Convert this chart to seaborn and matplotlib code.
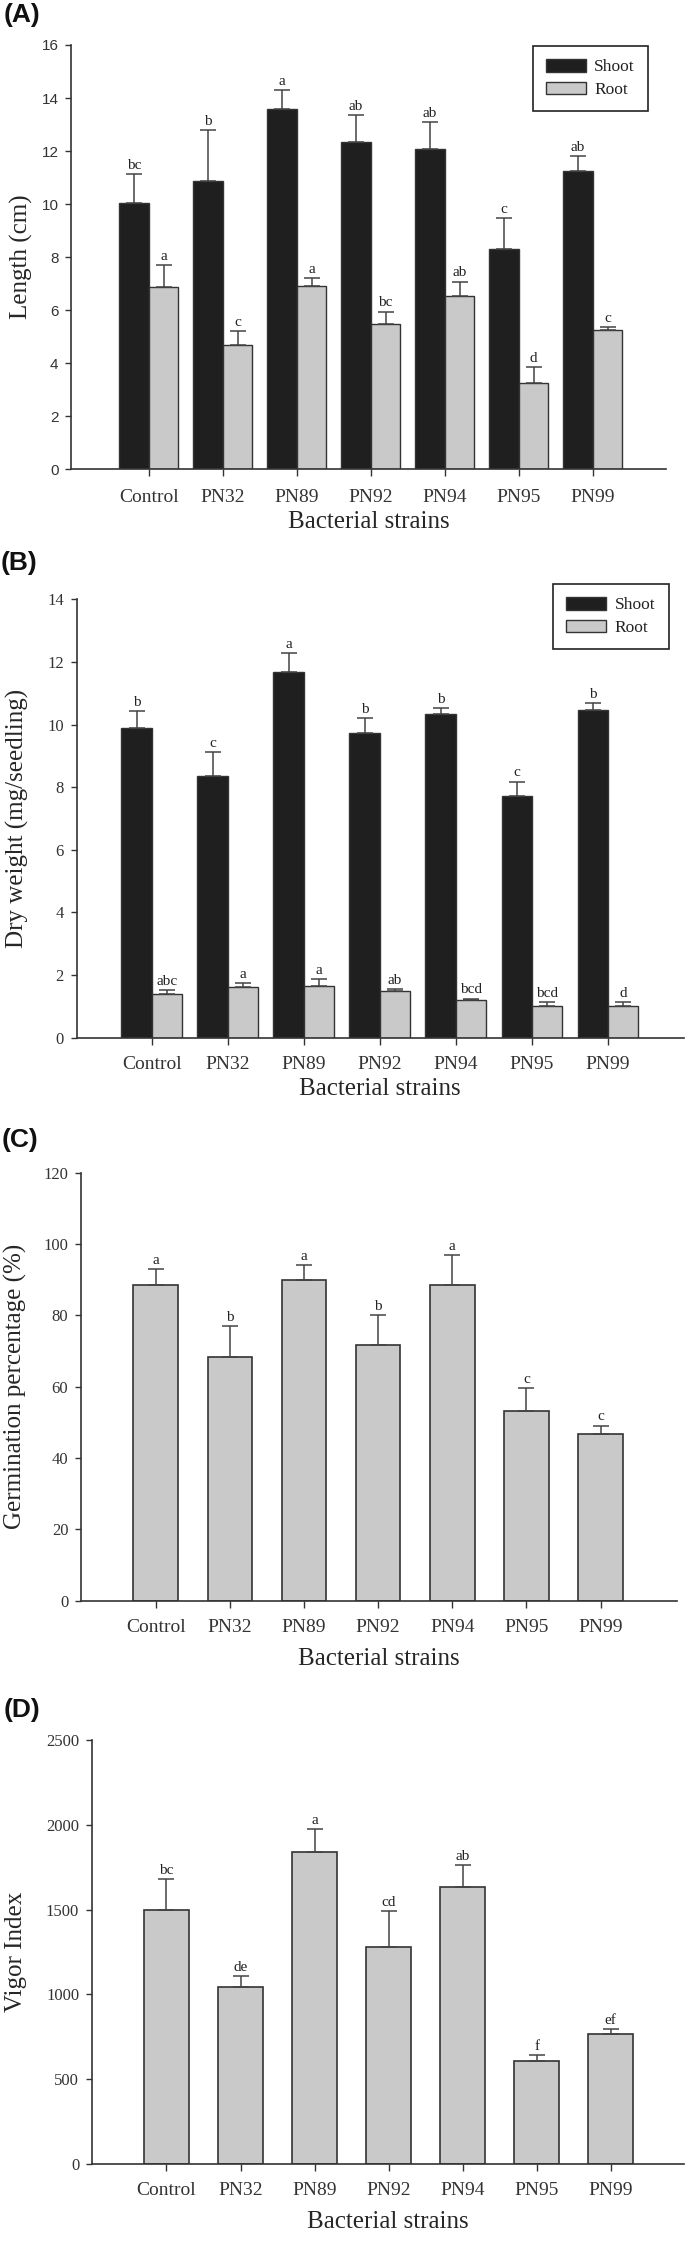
import seaborn as sns
import pandas as pd
import matplotlib.pyplot as plt
from matplotlib.patches import Patch

strains = ['Control', 'PN32', 'PN89', 'PN92', 'PN94', 'PN95', 'PN99']

# (A) length, cm
len_shoot = [10.05, 10.88, 13.58, 12.35, 12.07, 8.30, 11.26]
len_shoot_err = [1.08, 1.91, 0.73, 1.02, 1.01, 1.17, 0.56]
len_shoot_let = ['bc', 'b', 'a', 'ab', 'ab', 'c', 'ab']
len_root = [6.89, 4.68, 6.93, 5.49, 6.54, 3.25, 5.25]
len_root_err = [0.82, 0.55, 0.28, 0.46, 0.54, 0.60, 0.12]
len_root_let = ['a', 'c', 'a', 'bc', 'ab', 'd', 'c']

# (B) dry weight, mg/seedling
dw_shoot = [9.88, 8.36, 11.68, 9.73, 10.33, 7.72, 10.45]
dw_shoot_err = [0.54, 0.76, 0.59, 0.47, 0.21, 0.46, 0.23]
dw_shoot_let = ['b', 'c', 'a', 'b', 'b', 'c', 'b']
dw_root = [1.39, 1.61, 1.64, 1.48, 1.19, 1.00, 1.02]
dw_root_err = [0.12, 0.13, 0.23, 0.08, 0.06, 0.14, 0.13]
dw_root_let = ['abc', 'a', 'a', 'ab', 'bcd', 'bcd', 'd']

# (C) germination %
germ = [88.4, 68.4, 90.0, 71.6, 88.4, 53.3, 46.8]
germ_err = [4.6, 8.5, 4.1, 8.5, 8.5, 6.3, 2.3]
germ_let = ['a', 'b', 'a', 'b', 'a', 'c', 'c']

# (D) vigor index
vigor = [1498, 1045, 1840, 1281, 1631, 607, 767]
vigor_err = [184, 63, 137, 211, 132, 38, 31]
vigor_let = ['bc', 'de', 'a', 'cd', 'ab', 'f', 'ef']

SHOOT = '#1f1f1f'
ROOT = '#c9c9c9'
EDGE = '#333333'
INK = '#222222'

sns.set_style('ticks')
plt.rcParams['font.family'] = ['Liberation Serif', 'DejaVu Serif']
plt.rcParams['axes.edgecolor'] = '#333333'
plt.rcParams['xtick.color'] = '#333333'
plt.rcParams['ytick.color'] = '#333333'
plt.rcParams['text.color'] = INK

W, H = 685, 2241
fig = plt.figure(figsize=(W / 100, H / 100), dpi=100)


def make_axes(l, t, r, b):
    return fig.add_axes([l / W, 1 - b / H, (r - l) / W, (b - t) / H])


def add_errs(ax, errs, letters):
    # bars sorted left to right match the interleaved value order
    bars = sorted(ax.patches, key=lambda p: p.get_x())
    for p, e, lt in zip(bars, errs, letters):
        xc = p.get_x() + p.get_width() / 2
        h = p.get_height()
        ax.errorbar(xc, h, yerr=[[0], [e]], fmt='none', ecolor='#444444',
                    elinewidth=1.1, capsize=6, capthick=1.1, zorder=3)
        ax.annotate(lt, (xc, h + e), xytext=(0, 1.5), textcoords='offset points',
                    ha='center', va='bottom', fontsize=11, color=INK)


def style(ax, ylim, step, xlim, ylabel, ycoord, xpad, lpad):
    ax.set_ylim(0, ylim)
    ax.set_yticks(range(0, ylim + 1, step))
    ax.set_xlim(*xlim)
    ax.set_xlabel('Bacterial strains', fontsize=18, labelpad=lpad)
    ax.set_ylabel(ylabel, fontsize=18)
    ax.yaxis.set_label_coords(ycoord, 0.5)
    ax.tick_params(axis='x', length=5, width=1, pad=xpad, labelsize=14)
    ax.tick_params(axis='y', length=4, width=1, pad=5, labelsize=12)
    for s in ['left', 'bottom']:
        ax.spines[s].set_linewidth(1.2)
    sns.despine(ax=ax)


def two_part(ax, shoot, root, serr, rerr, slet, rlet, anchor):
    df = pd.DataFrame({'strain': strains * 2,
                       'part': ['Shoot'] * 7 + ['Root'] * 7,
                       'value': shoot + root})
    sns.barplot(data=df, x='strain', y='value', hue='part', order=strains,
                hue_order=['Shoot', 'Root'], palette={'Shoot': SHOOT, 'Root': ROOT},
                edgecolor=EDGE, linewidth=1, errorbar=None, width=0.8,
                legend=False, ax=ax)
    errs, lets = [], []
    for i in range(7):
        errs += [serr[i], rerr[i]]
        lets += [slet[i], rlet[i]]
    add_errs(ax, errs, lets)
    handles = [Patch(facecolor=SHOOT, edgecolor=EDGE, label='Shoot'),
               Patch(facecolor=ROOT, edgecolor=EDGE, label='Root')]
    leg = ax.legend(handles=handles, loc='upper right',
                    bbox_to_anchor=(anchor[0] / W, 1 - anchor[1] / H),
                    bbox_transform=fig.transFigure, borderaxespad=0,
                    frameon=True, fancybox=False, framealpha=1, edgecolor=INK,
                    fontsize=12.5, handlelength=2.3, handleheight=0.75,
                    handletextpad=0.5, borderpad=0.75, labelspacing=0.35)
    leg.get_frame().set_linewidth(1.2)


def one_part(ax, vals, errs, lets):
    df = pd.DataFrame({'strain': strains, 'value': vals})
    sns.barplot(data=df, x='strain', y='value', order=strains, color=ROOT,
                saturation=1, edgecolor=EDGE, linewidth=1.2, errorbar=None,
                width=0.6, ax=ax)
    add_errs(ax, errs, lets)


# (A)
axA = make_axes(71, 45, 666, 469.3)
two_part(axA, len_shoot, len_root, len_shoot_err, len_root_err,
         len_shoot_let, len_root_let, (648, 46))
style(axA, 16, 2, (-1.05, 6.99), 'Length (cm)', -0.064, 9, 4)
for t in axA.get_yticklabels():
    t.set_fontfamily(['Liberation Sans', 'DejaVu Sans'])
    t.set_fontsize(11)

# (B)
axB = make_axes(76.5, 599.3, 684, 1037.7)
two_part(axB, dw_shoot, dw_root, dw_shoot_err, dw_root_err,
         dw_shoot_let, dw_root_let, (668.5, 584))
style(axB, 14, 2, (-0.99, 7.0), 'Dry weight (mg/seedling)', -0.078, 8, 4)

# (C)
axC = make_axes(80.8, 1172.7, 677, 1600.7)
one_part(axC, germ, germ_err, germ_let)
style(axC, 120, 20, (-1.01, 7.03), 'Germination percentage (%)', -0.090, 8.5, 8)

# (D)
axD = make_axes(91.7, 1740, 684, 2164)
one_part(axD, vigor, vigor_err, vigor_let)
style(axD, 2500, 500, (-1.01, 6.99), 'Vigor Index', -0.109, 8, 8.5)

for lab, (x, y) in zip(['(A)', '(B)', '(C)', '(D)'],
                       [(4, 3), (1, 551), (2, 1128), (4, 1698)]):
    fig.text(x / W, 1 - y / H, lab, ha='left', va='top', fontsize=19,
             fontweight='bold', family=['Liberation Sans', 'DejaVu Sans'], color='#111111')

fig.savefig('out.png', dpi=100)
